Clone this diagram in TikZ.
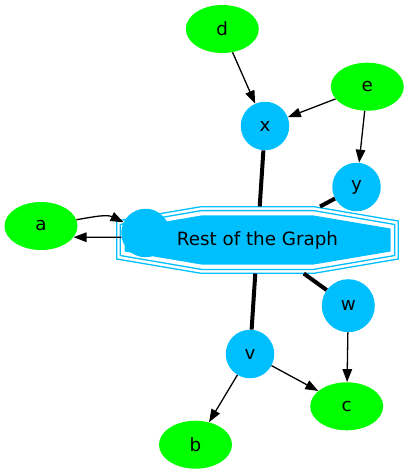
\documentclass[tikz,border=0pt]{standalone}
\usepackage{fontspec}
\setmainfont{DejaVu Sans}
\usetikzlibrary{shapes.geometric,arrows.meta}
\definecolor{lgreen}{RGB}{0,255,0}
\definecolor{dsky}{RGB}{0,191,255}
\begin{document}
\begin{tikzpicture}[x=1pt,y=1pt,
  font=\fontsize{18.3}{22}\selectfont,
  gnode/.style={ellipse,fill=lgreen,minimum width=73pt,minimum height=48pt,inner sep=0pt},
  bnode/.style={circle,fill=dsky,minimum size=48.5pt,inner sep=0pt},
  arr/.style={line width=1.3pt,-{Triangle[length=13pt,width=9.5pt]}},
  heavy/.style={line width=4pt},
  per/.style={draw=dsky,line width=1.3pt},
  perfill/.style={fill=dsky}
]
\useasboundingbox (0,0) rectangle (409,-474);
% octagon peripheries
\begin{scope}[shift={(257.5,-240)}]
  \draw[per] (-56.5,33.3) -- (56.5,33.3) -- (140.8,19) -- (140.8,-19) -- (56.5,-33.3) -- (-56.5,-33.3) -- (-140.8,-19) -- (-140.8,19) -- cycle;
  \draw[per] (-56,29.4) -- (56,29.4) -- (137.3,15.5) -- (137.3,-15.5) -- (56,-29.4) -- (-56,-29.4) -- (-137.3,-15.5) -- (-137.3,15.5) -- cycle;
  \fill[perfill] (-55,24.7) -- (55,24.7) -- (133,11.5) -- (133,-11.5) -- (55,-24.7) -- (-55,-24.7) -- (-133,-11.5) -- (-133,11.5) -- cycle;
\end{scope}
\node[minimum width=281.6pt,minimum height=66.6pt,inner sep=0pt] (rest) at (257.5,-240) {Rest of the Graph};
% nodes
\node[gnode] (d) at (222.3,-29) {d};
\node[gnode] (e) at (367.3,-86.7) {e};
\node[bnode] (x) at (265,-126) {x};
\node[bnode] (y) at (356.5,-187) {y};
\node[gnode] (a) at (41,-226) {a};
\node[bnode] (s) at (145.5,-233) {};
\node[bnode,minimum size=53pt] (w) at (348.3,-305.7) {w};
\node[bnode] (v) at (250,-354) {v};
\node[gnode] (c) at (346.7,-406.3) {c};
\node[gnode] (b) at (195.5,-444.7) {b};
% edges
\draw[heavy] (rest) -- (x);
\draw[heavy] (rest) -- (y);
\draw[heavy] (rest) -- (w);
\draw[heavy] (rest) -- (v);
\draw[arr] (d) -- (x);
\draw[arr] (e) -- (x);
\draw[arr] (e) -- (y);
\draw[arr] (w) -- (c);
\draw[arr] (v) -- (c);
\draw[arr] (v) -- (b);
\draw[arr] (a.10) to[out=10,in=154] (s.154);
\draw[arr] (s.190) -- (a.341);
\end{tikzpicture}
\end{document}
